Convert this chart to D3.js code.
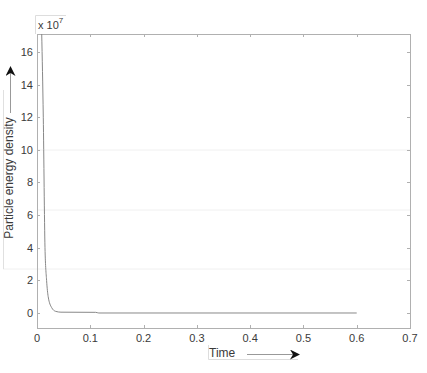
<!DOCTYPE html>
<html>
<head>
<meta charset="utf-8">
<script src="https://cdn.jsdelivr.net/npm/d3@7"></script>
<style>
  body { margin: 0; background: #fff; }
  svg { display: block; font-family: "Liberation Sans", Arial, sans-serif; }
</style>
</head>
<body>
<div id="chart"></div>
<script>
// Time vs particle energy density (units of 1e7)
const timeValues = [0.0088, 0.0118, 0.015, 0.018, 0.021, 0.0275, 0.035, 0.045, 0.11, 0.116, 0.6];
const energyValues = [17.2, 12, 4, 2, 1, 0.33, 0.1, 0.05, 0.04, 0, 0];
const xTicks = [0, 0.1, 0.2, 0.3, 0.4, 0.5, 0.6, 0.7];
const yTicks = [0, 2, 4, 6, 8, 10, 12, 14, 16];

const W = 427, H = 373;
const margin = { top: 34, right: 17, bottom: 45, left: 37 };
const width = W - margin.left - margin.right;
const height = H - margin.top - margin.bottom;

const svg = d3.select("#chart").append("svg")
    .attr("width", W).attr("height", H);

const x = d3.scaleLinear().domain([0, 0.7]).range([margin.left, margin.left + width]);
const y = d3.scaleLinear().domain([-0.92, 17.1]).range([margin.top + height, margin.top]);

// faint scan lines in background
[150, 210, 269].forEach(yy => {
    svg.append("line")
        .attr("x1", yy === 269 ? 3 : margin.left).attr("x2", margin.left + width)
        .attr("y1", yy).attr("y2", yy)
        .attr("stroke", "#f0f0f0").attr("stroke-width", 1);
});

// frame
svg.append("rect")
    .attr("x", margin.left + 0.5).attr("y", margin.top + 0.5)
    .attr("width", width).attr("height", height)
    .attr("fill", "none").attr("stroke", "#b0b0b0");

const tickLen = 3;
const tickColor = "#b0b0b0";
const labelColor = "#3a3a3a";

// x ticks (bottom & top) + labels
xTicks.forEach(t => {
    const px = Math.round(x(t)) + 0.5;
    svg.append("line").attr("x1", px).attr("x2", px)
        .attr("y1", margin.top + height).attr("y2", margin.top + height - tickLen)
        .attr("stroke", tickColor);
    svg.append("line").attr("x1", px).attr("x2", px)
        .attr("y1", margin.top).attr("y2", margin.top + tickLen)
        .attr("stroke", tickColor);
    svg.append("text").attr("x", x(t)).attr("y", 342)
        .attr("text-anchor", "middle").attr("font-size", 11)
        .attr("fill", labelColor).text(t === 0 ? "0" : d3.format(".1f")(t));
});

// y ticks (left & right) + labels
yTicks.forEach(v => {
    const py = Math.round(y(v)) + 0.5;
    svg.append("line").attr("x1", margin.left).attr("x2", margin.left + tickLen)
        .attr("y1", py).attr("y2", py).attr("stroke", tickColor);
    svg.append("line").attr("x1", margin.left + width).attr("x2", margin.left + width - tickLen)
        .attr("y1", py).attr("y2", py).attr("stroke", tickColor);
    svg.append("text").attr("x", 33).attr("y", y(v) + 4)
        .attr("text-anchor", "end").attr("font-size", 11)
        .attr("fill", labelColor).text(v);
});

// data line
const data = timeValues.map((t, i) => ({ t: t, v: energyValues[i] }));
svg.append("defs").append("clipPath").attr("id", "clip")
    .append("rect").attr("x", margin.left).attr("y", margin.top)
    .attr("width", width).attr("height", height);
svg.append("path")
    .datum(data)
    .attr("clip-path", "url(#clip)")
    .attr("fill", "none")
    .attr("stroke", "#888")
    .attr("stroke-width", 1)
    .attr("d", d3.line().x(d => x(d.t)).y(d => y(d.v)).curve(d3.curveMonotoneX));

// exponent label with thin box edges
svg.append("path").attr("d", "M35.5,34 V15.5 H66")
    .attr("fill", "none").attr("stroke", "#ddd");
svg.append("text").attr("x", 38).attr("y", 29)
    .attr("font-size", 11).attr("fill", labelColor)
    .text("x 10")
    .append("tspan").attr("font-size", 8).attr("dy", -6).text("7");

// arrow marker
svg.select("defs").append("marker")
    .attr("id", "arrow").attr("viewBox", "0 0 10 10")
    .attr("refX", 9).attr("refY", 5)
    .attr("markerWidth", 10).attr("markerHeight", 10)
    .attr("markerUnits", "userSpaceOnUse")
    .attr("orient", "auto-start-reverse")
    .append("path").attr("d", "M0,0 L10,5 L0,10 L3,5 Z").attr("fill", "#111");

// y label
svg.append("line").attr("x1", 3.5).attr("x2", 3.5).attr("y1", 90).attr("y2", 269)
    .attr("stroke", "#e0e0e0");
svg.append("line").attr("x1", 10.5).attr("x2", 10.5).attr("y1", 113).attr("y2", 67)
    .attr("stroke", "#999").attr("marker-end", "url(#arrow)");
svg.append("text")
    .attr("transform", "translate(13,178) rotate(-90)")
    .attr("text-anchor", "middle").attr("font-size", 12)
    .attr("fill", labelColor).text("Particle energy density");

// x label
svg.append("path").attr("d", "M208.5,345 V359.5 H298")
    .attr("fill", "none").attr("stroke", "#ddd");
svg.append("text").attr("x", 209).attr("y", 357)
    .attr("font-size", 12).attr("fill", labelColor).text("Time");
svg.append("line").attr("x1", 247).attr("x2", 299).attr("y1", 354.5).attr("y2", 354.5)
    .attr("stroke", "#999").attr("marker-end", "url(#arrow)");
</script>
</body>
</html>
